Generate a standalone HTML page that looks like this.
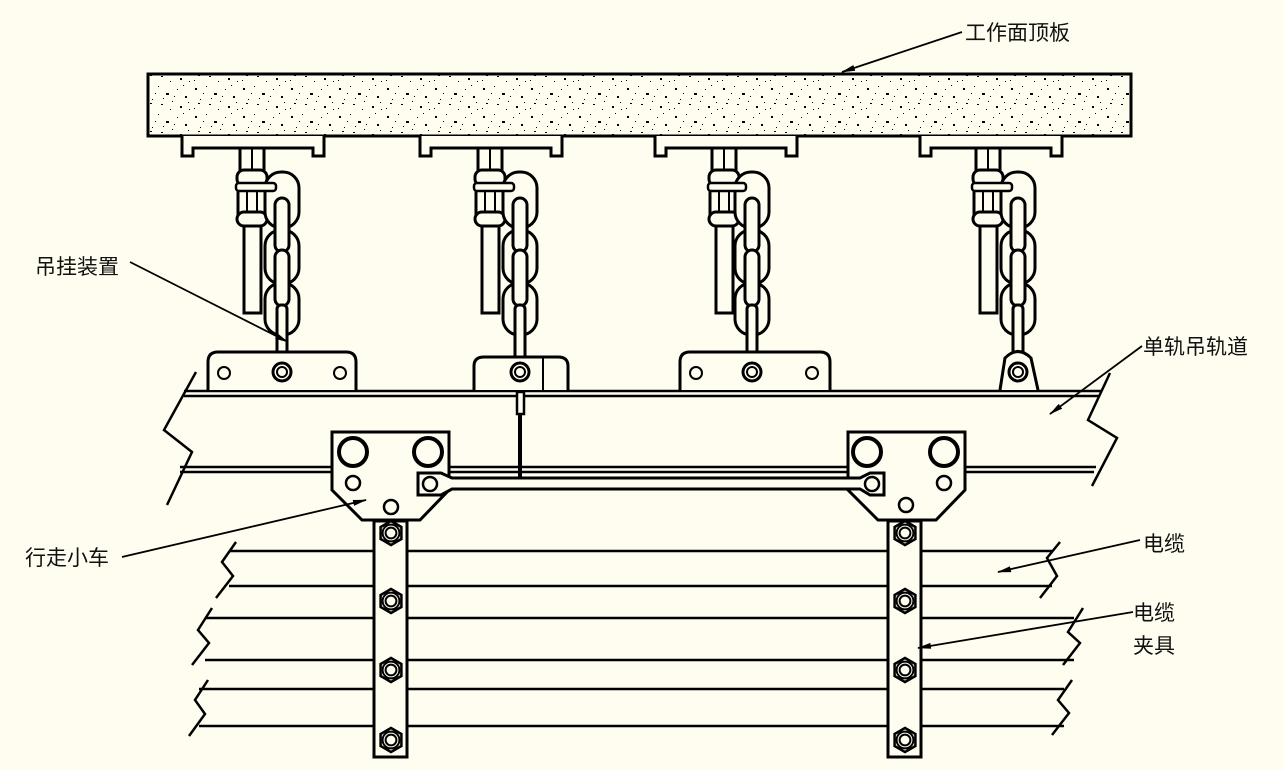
<!DOCTYPE html>
<html><head><meta charset="utf-8">
<style>
html,body{margin:0;padding:0;background:#FFFDF0;}
svg{display:block;}
text{font-family:"Liberation Sans","Noto Sans CJK SC",sans-serif;font-size:21px;fill:#111;}
</style></head>
<body>
<svg id="s" width="1284" height="770" viewBox="0 0 1284 770" xmlns="http://www.w3.org/2000/svg">
<defs>
<pattern id="dots" width="48" height="28" patternUnits="userSpaceOnUse">
<rect x="3" y="4" width="2" height="2" fill="#000"/><rect x="14" y="2" width="1" height="1" fill="#000"/>
<rect x="22" y="9" width="3" height="2" fill="#000"/><rect x="33" y="5" width="1" height="1" fill="#000"/>
<rect x="41" y="12" width="2" height="2" fill="#000"/><rect x="8" y="15" width="1" height="1" fill="#000"/>
<rect x="17" y="20" width="2" height="1" fill="#000"/><rect x="28" y="17" width="1" height="1" fill="#000"/>
<rect x="36" y="22" width="2" height="2" fill="#000"/><rect x="45" y="25" width="1" height="1" fill="#000"/>
<rect x="2" y="24" width="1" height="1" fill="#000"/><rect x="11" y="9" width="1" height="1" fill="#000"/>
<rect x="26" y="25" width="1" height="1" fill="#000"/><rect x="39" y="1" width="1" height="1" fill="#000"/>
<rect x="30" y="12" width="1" height="1" fill="#000"/><rect x="19" y="14" width="1" height="1" fill="#000"/>
<rect x="6" y="19" width="2" height="1" fill="#000"/><rect x="44" y="18" width="1" height="1" fill="#000"/>
</pattern>
<marker id="ar" markerWidth="14" markerHeight="8" refX="13" refY="4" orient="auto" markerUnits="userSpaceOnUse">
<path d="M0,1 L14,4 L0,7 Z" fill="#000"/></marker>
</defs>
<g id="g" stroke="#000" fill="none" stroke-width="2.5"></g>
<g stroke="#000" stroke-width="1.8" fill="none">
<line x1="962" y1="32" x2="842" y2="72" marker-end="url(#ar)"/>
<line x1="130" y1="262" x2="288" y2="342" marker-end="url(#ar)"/>
<line x1="1142" y1="346" x2="1050" y2="414" marker-end="url(#ar)"/>
<line x1="122" y1="557" x2="366" y2="500" marker-end="url(#ar)"/>
<line x1="1140" y1="540" x2="998" y2="572" marker-end="url(#ar)"/>
<line x1="1133" y1="612" x2="918" y2="648" marker-end="url(#ar)"/>
</g>
<text x="965" y="40">工作面顶板</text>
<text x="35" y="274">吊挂装置</text>
<text x="1143" y="354">单轨吊轨道</text>
<text x="25" y="565">行走小车</text>
<text x="1143" y="551">电缆</text>
<text x="1133" y="620">电缆</text>
<text x="1133" y="653">夹具</text>
</svg>
<script>
var g=document.getElementById('g'),o='';
function L(a,b,c,d,w){o+='<line x1="'+a+'" y1="'+b+'" x2="'+c+'" y2="'+d+'"'+(w?' stroke-width="'+w+'"':'')+'/>';}
function P(d,f,w){o+='<path d="'+d+'"'+(f?' fill="'+f+'"':'')+(w?' stroke-width="'+w+'"':'')+'/>';}
function R(x,y,w,h,rx,f,sw){o+='<rect x="'+x+'" y="'+y+'" width="'+w+'" height="'+h+'" rx="'+(rx||0)+'"'+(f?' fill="'+f+'"':'')+(sw?' stroke-width="'+sw+'"':'')+'/>';}
function C(x,y,r,f,sw){o+='<circle cx="'+x+'" cy="'+y+'" r="'+r+'"'+(f?' fill="'+f+'"':'')+(sw?' stroke-width="'+sw+'"':'')+'/>';}
function hex(x,y,r){var p=[];for(var i=0;i<6;i++){var a=Math.PI/3*i+Math.PI/6;p.push((x+r*Math.cos(a)).toFixed(1)+','+(y+r*Math.sin(a)).toFixed(1));}o+='<polygon points="'+p.join(' ')+'" fill="#FFFDF0"/>';C(x,y,r*0.7,null,2);C(x,y,r*0.45,null,2);}
var bg='#FFFDF0';
R(148,74,983,62,0,'url(#dots)',3);R(148,74,983,62,0,null,3);
var cy=[551,586,618,660,689,726];
cy.forEach(function(y,i){var p=Math.floor(i/2);var xl=[229,205,199][p],xr=[1052,1074,1064][p];L(xl,y,xr,y);});
P('M236,542 L222,562 L233,576 L216,598');P('M212,608 L198,630 L209,643 L192,665');P('M208,680 L195,700 L205,714 L189,736');
P('M1060,542 L1047,558 L1057,576 L1040,598');P('M1083,608 L1068,632 L1080,643 L1063,665');P('M1072,680 L1058,700 L1069,713 L1052,735');
L(184,391,1102,391);L(184,396,1100,396);L(180,467,1096,467);L(180,472,1094,472);
P('M196,372 L164,430 L192,452 L167,505');P('M1110,373 L1088,420 L1117,438 L1092,486');
var H=[[182,252,282],[420,490,520],[655,724,752],[920,988,1018]];
H.forEach(function(h){var bx=h[0],b=h[1],c=h[2];
 P('M'+bx+',136 L'+bx+',156 L'+(bx+11)+',156 L'+(bx+11)+',148 L'+(bx+131)+',148 L'+(bx+131)+',156 L'+(bx+142)+',156 L'+(bx+142)+',136','#FFFDF0',3);
 R(b-12,148,24,24,0,bg,3);L(b,148,b,172,2);
 R(b-8,222,17,91,0,bg,3);
 R(b-15,170,30,16,7,bg,3);R(b-14,190,28,28,0,bg,3);L(b-5,190,b-5,218,2);L(b+5,190,b+5,218,2);R(b-15,212,30,14,7,bg,3);
 R(c-17,172,34,56,16,bg,3);R(c-17,230,34,54,16,bg,3);R(c-17,283,34,52,16,bg,3);
 R(c-7,198,14,54,7,bg,3);R(c-7,250,14,56,7,bg,3);
 R(c-5,305,10,62,4,bg,3);
 R(b-16,183,c-b+10,8,3,bg,2.5);
});
P('M208,390 L208,362 Q208,352 218,352 L346,352 Q356,352 356,362 L356,390','#FFFDF0',3);C(224,373,6,null,2);C(340,373,6,null,2);
P('M474,390 L474,366 Q474,357 484,357 L558,357 Q568,357 568,366 L568,390','#FFFDF0',3);L(543,357,543,390,2);
P('M680,390 L680,362 Q680,352 690,352 L820,352 Q830,352 830,362 L830,390','#FFFDF0',3);C(696,373,6,null,2);C(812,373,6,null,2);
P('M1000,390 L1005,358 Q1018,345 1031,358 L1038,390','#FFFDF0',3);
H.forEach(function(h){C(h[2],372,9,bg,3);C(h[2],372,5,null,2);});
R(517,392,7,22,0,bg,2.5);L(520,414,520,478,4);
function trolley(x){P('M'+x+',432 L'+(x+117)+',432 L'+(x+117)+',490 L'+(x+88)+',520 L'+(x+30)+',520 L'+x+',490 Z','#FFFDF0',3);}
trolley(332);trolley(848);
P('M418,473 L441,473 L452,478 L860,478 L870,473 L884,473 L884,495 L870,495 L860,489 L452,489 L441,495 L418,495 Z','#FFFDF0',3);
C(430,484,7,null,2.5);C(872,484,7,null,2.5);
[[353,452],[428,452],[867,452],[944,452]].forEach(function(p){C(p[0],p[1],14,null,4);});
C(353,483,7,null,2.5);C(391,507,7,null,2.5);C(944,483,7,null,2.5);C(906,505,7,null,2.5);
R(374,521,33,236,0,bg,3);R(888,521,33,236,0,bg,3);
[533,601,670,740].forEach(function(y){hex(391,y,12);hex(905,y,12);});
g.innerHTML=o;
</script>
</body></html>
